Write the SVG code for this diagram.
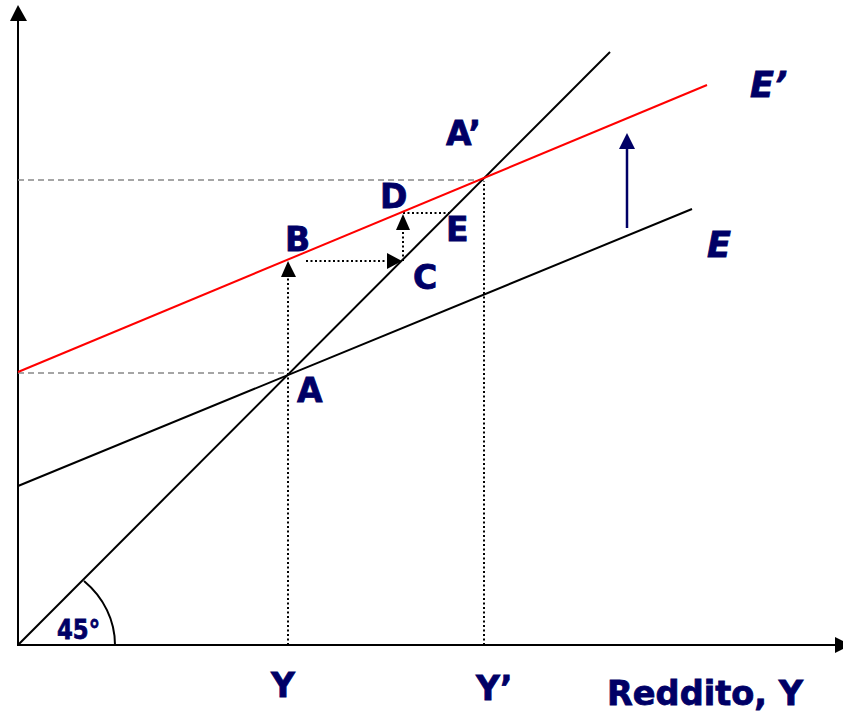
<svg xmlns="http://www.w3.org/2000/svg" width="843" height="713" viewBox="0 0 843 713">
<style>
.lbl{font-family:"DejaVu Sans","Verdana",sans-serif;font-weight:bold;fill:#000066;stroke:#000066;stroke-width:0.8;font-size:33px;}
.ln{stroke:#000;stroke-width:2;fill:none;}
.dash{stroke:#888;stroke-width:1.5;stroke-dasharray:6,4;fill:none;}
.dot{stroke:#000;stroke-width:2;stroke-dasharray:2,2.5;fill:none;}
.head{fill:#000;}
</style>
<rect width="843" height="713" fill="#fff"/>
<g id="axes">
<line class="ln" x1="18" y1="646" x2="18" y2="18"/>
<polygon class="head" points="18,5 10,21 27,21"/>
<line class="ln" x1="17" y1="645" x2="838" y2="645"/>
<polygon class="head" points="835,637 851,645 835,653"/>
<path class="ln" d="M115,645 A97,87 0 0 0 84,581" stroke-width="1.8"/>
</g>
<g id="connectors">
<line class="dash" x1="18" y1="373" x2="288" y2="373"/>
<line class="dash" x1="18" y1="180" x2="484" y2="180"/>
<line class="dot" x1="288" y1="645" x2="288" y2="276"/>
<polygon class="head" points="288,261 281,277 296,277"/>
<line class="dot" x1="306" y1="261" x2="388" y2="261"/>
<polygon class="head" points="402,261 387,253 387,269"/>
<line class="dot" x1="403" y1="261" x2="403" y2="229"/>
<polygon class="head" points="403,214 396,230 410,230"/>
<line class="dot" x1="403" y1="213" x2="450" y2="213"/>
<line class="dot" x1="484" y1="645" x2="484" y2="181"/>
<line x1="627" y1="228" x2="627" y2="146" stroke="#000066" stroke-width="2.5"/>
<polygon points="627,133 619,149 635,149" fill="#000066"/>
</g>
<g id="line45"><line class="ln" x1="18" y1="645" x2="610" y2="52"/></g>
<g id="lineE"><line class="ln" x1="18" y1="486" x2="692" y2="209"/></g>
<g id="lineEprime"><line x1="18" y1="372" x2="707" y2="85" stroke="#ff0000" stroke-width="2"/></g>
<g id="labels">
<text class="lbl" x="446" y="145">A’</text>
<text class="lbl" x="380" y="208">D</text>
<text class="lbl" x="446" y="241">E</text>
<text class="lbl" x="285" y="251">B</text>
<text class="lbl" x="413" y="289">C</text>
<text class="lbl" x="297" y="402">A</text>
<text class="lbl" x="750" y="97" style="font-size:35px" font-style="italic">E’</text>
<text class="lbl" x="707" y="257" style="font-size:35px" font-style="italic">E</text>
<text class="lbl" x="57" y="639" style="font-size:27px" textLength="43" lengthAdjust="spacingAndGlyphs">45°</text>
<text class="lbl" x="271" y="697">Y</text>
<text class="lbl" x="476" y="700">Y’</text>
<text class="lbl" x="607" y="705" textLength="196" lengthAdjust="spacingAndGlyphs">Reddito, Y</text>
</g>
</svg>
